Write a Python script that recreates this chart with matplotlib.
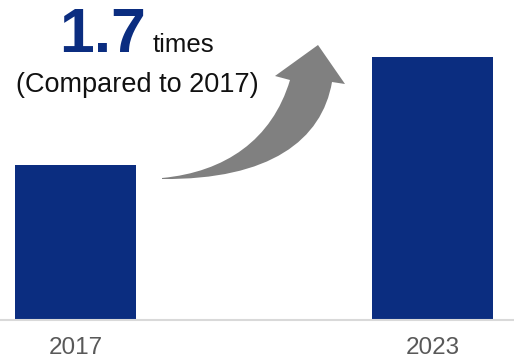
import matplotlib
matplotlib.use('Agg')
from matplotlib import pyplot as plt
from matplotlib.path import Path
from matplotlib.patches import PathPatch
import matplotlib.transforms as mtransforms

plt.rcParams['font.family'] = ['Liberation Sans', 'DejaVu Sans']

years = ['2017', '2023']
values = [1.0, 1.7]  # relative to 2017
ratio_text = '1.7'

bar_color = '#0b2d80'

fig = plt.figure(figsize=(5.14, 3.62), dpi=100)
ax = fig.add_axes([0, 42 / 362, 1, 320 / 362])

ax.bar([0, 1], values, width=0.339, color=bar_color)
ax.set_xlim(-0.2115, 1.2283)
ax.set_ylim(0, 2.068)
ax.set_xticks([0, 1])
ax.set_xticklabels(years, fontsize=17.5, color='#595959')
ax.tick_params(axis='x', length=0, pad=12)
ax.set_yticks([])
for s in ['top', 'left', 'right']:
    ax.spines[s].set_visible(False)
ax.spines['bottom'].set_color('#d9d9d9')
ax.spines['bottom'].set_linewidth(1.5)

# pixel coords (y down) -> figure
px = mtransforms.Affine2D().scale(1 / 514, -1 / 362).translate(0, 1) + fig.transFigure

fig.text(59, 52, ratio_text, transform=px, fontsize=45, fontweight='bold',
         color=bar_color, ha='left', va='baseline')
fig.text(153, 52, 'times', transform=px, fontsize=18.5, color='#111111',
         ha='left', va='baseline')
fig.text(137, 85, '(Compared to 2017)', transform=px, fontsize=19.5,
         color='#111111', ha='center', va='center')

# curved arrow
verts = [
    (162, 178),
    (225, 172), (272, 140), (290, 80),
    (275, 76),
    (318, 45),
    (345, 84),
    (332, 82),
    (322, 140), (270, 180), (162, 179),
    (162, 178),
]
codes = [Path.MOVETO,
         Path.CURVE4, Path.CURVE4, Path.CURVE4,
         Path.LINETO, Path.LINETO, Path.LINETO, Path.LINETO,
         Path.CURVE4, Path.CURVE4, Path.CURVE4,
         Path.CLOSEPOLY]
arrow = PathPatch(Path(verts, codes), transform=px, facecolor='#808080',
                  edgecolor='none')
fig.patches.append(arrow)

fig.savefig('out.png', dpi=100)
